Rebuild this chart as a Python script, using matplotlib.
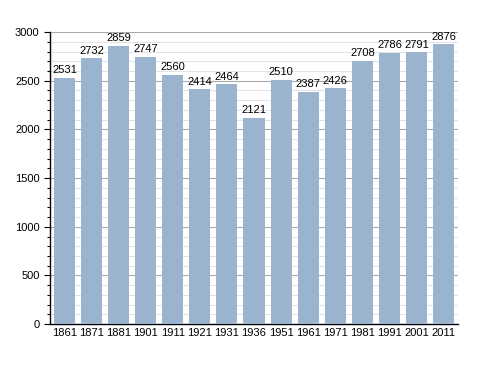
import numpy as np
import matplotlib.pyplot as plt
from matplotlib.ticker import MultipleLocator

years = ['1861', '1871', '1881', '1901', '1911', '1921', '1931', '1936',
         '1951', '1961', '1971', '1981', '1991', '2001', '2011']
population = [2531, 2732, 2859, 2747, 2560, 2414, 2464, 2121,
              2510, 2387, 2426, 2708, 2786, 2791, 2876]

plt.rcParams['font.family'] = ['Liberation Sans', 'DejaVu Sans']

fig = plt.figure(figsize=(4.88, 3.73), dpi=100)
ax = fig.add_axes([0.1025, 0.131, 0.836, 0.783])

x = np.arange(len(years))
ax.bar(x, population, width=0.78, color='#9ab3cf', zorder=3)
for xi, v in zip(x, population):
    ax.text(xi, v + 25, str(v), ha='center', va='bottom', fontsize=8, zorder=4)

ax.set_xlim(-0.53, len(years) - 0.47)
ax.set_ylim(0, 3000)
ax.set_xticks(x)
ax.set_xticklabels(years, fontsize=8)
ax.yaxis.set_major_locator(MultipleLocator(500))
ax.yaxis.set_minor_locator(MultipleLocator(100))
ax.tick_params(axis='y', labelsize=8, length=4, width=0.8)
ax.tick_params(axis='y', which='minor', length=2, width=0.8)
ax.tick_params(axis='x', length=0, pad=3)

ax.grid(axis='y', which='major', color='#aaaaaa', linewidth=0.8, zorder=1)
ax.grid(axis='y', which='minor', color='#e2e2e2', linewidth=0.7, zorder=1)
for s in ['top', 'right']:
    ax.spines[s].set_visible(False)
ax.spines['left'].set_linewidth(1)
ax.spines['bottom'].set_linewidth(1)

fig.savefig('out.png', dpi=100)
